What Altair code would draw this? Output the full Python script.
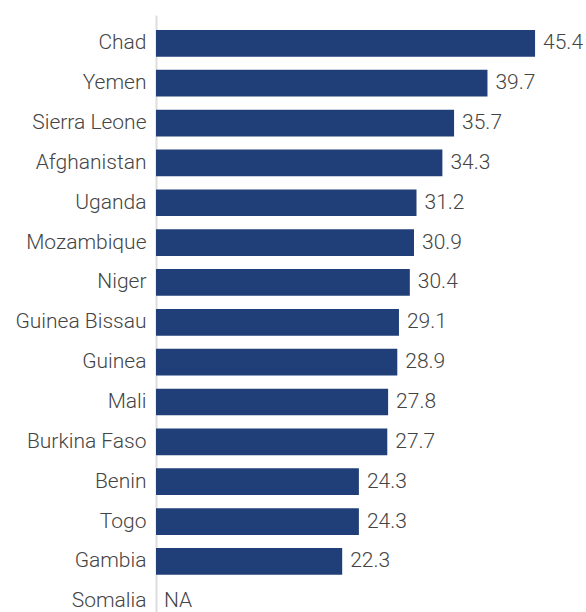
import altair as alt
import pandas as pd

countries = ["Chad", "Yemen", "Sierra Leone", "Afghanistan", "Uganda", "Mozambique",
             "Niger", "Guinea Bissau", "Guinea", "Mali", "Burkina Faso", "Benin",
             "Togo", "Gambia", "Somalia"]
values = [45.4, 39.7, 35.7, 34.3, 31.2, 30.9, 30.4, 29.1, 28.9, 27.8, 27.7, 24.3,
          24.3, 22.3, None]

df = pd.DataFrame({
    "country": countries,
    "value": values,
})
df["pos"] = df["value"].fillna(0)
df["label"] = df["value"].apply(lambda v: "NA" if pd.isna(v) else f"{v:.1f}")

FONT = "Roboto"
TEXT_COLOR = "#444444"
SHIFT = 2.6

y_scale = alt.Scale(paddingInner=0.33, paddingOuter=0.1555, align=1)

y_enc = alt.Y(
    "country:N",
    sort=countries,
    title=None,
    scale=y_scale,
    axis=alt.Axis(
        ticks=False,
        labelPadding=10,
        labelOffset=SHIFT,
        labelFont=FONT,
        labelFontSize=21,
        labelFontWeight=300,
        labelColor=TEXT_COLOR,
        domainColor="#dddddd",
        domainWidth=2,
        grid=False,
    ),
)
x_scale = alt.Scale(domain=[0, 51.5], nice=False, zero=True)

bars = alt.Chart(df).transform_filter("isValid(datum.value)").mark_bar(
    color="#203f78", yOffset=SHIFT
).encode(
    y=y_enc,
    x=alt.X("value:Q", scale=x_scale, axis=None),
)

labels = alt.Chart(df).mark_text(
    align="left", baseline="middle", dx=8, font=FONT, fontSize=21,
    fontWeight=300, color=TEXT_COLOR, yOffset=SHIFT,
).encode(
    y=alt.Y("country:N", sort=countries),
    x=alt.X("pos:Q", scale=x_scale, axis=None),
    text="label:N",
)

chart = alt.layer(bars, labels).properties(
    width=430,
    height=597,
    autosize=alt.AutoSizeParams(type="none"),
    padding={"left": 156, "top": 15, "right": 0, "bottom": 0},
).configure_view(stroke=None)

chart.save("out.html", embed_options={"renderer": "svg", "actions": False})
